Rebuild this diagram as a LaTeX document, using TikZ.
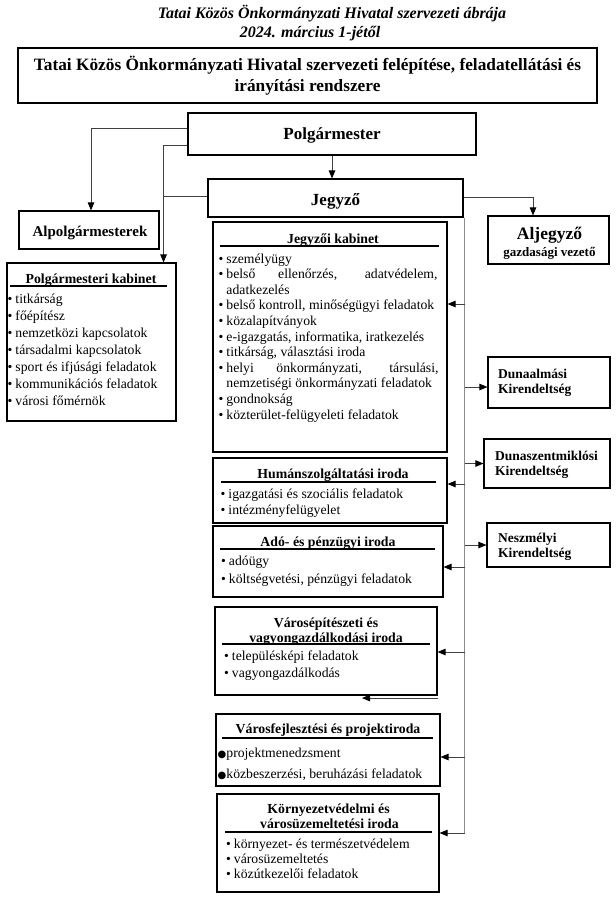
\documentclass[tikz,border=0pt]{standalone}
\usepackage{fontspec}
\setmainfont{Liberation Serif}
\newfontfamily\dejavu{DejaVu Sans}
\usetikzlibrary{arrows.meta,calc}
\newcommand\bul{\textbullet\hspace{3pt}}
\newcommand\nobul{\hphantom{\textbullet}\hspace{3pt}}
\newcommand\bigbul{{\dejavu\fontsize{10}{10}\selectfont ●}}
\begin{document}
\begin{tikzpicture}[x=1pt,y=-1pt,
  box/.style={draw=black, line width=1.1pt, inner sep=0pt},
  conn/.style={draw=black!75, line width=0.9pt},
  arr/.style={conn, -{Triangle[length=8pt,width=6.5pt,color=black]}},
  trunkline/.style={draw=black!45, line width=1.6pt},
  hrul/.style={line width=2pt},
  hdr/.style={inner sep=0pt, font=\bfseries\itshape\fontsize{16}{18}\selectfont, text height=13.2pt, text depth=2pt},
  big/.style={inner sep=0pt, font=\bfseries\fontsize{17}{20}\selectfont, text height=13.9pt, text depth=2.25pt},
  mid/.style={inner sep=0pt, font=\bfseries\fontsize{15}{17}\selectfont, text height=12.5pt, text depth=1.75pt},
  ttl/.style={inner sep=0pt, font=\bfseries\fontsize{13.8}{15.6}\selectfont, text height=11.7pt, text depth=1.45pt},
  li/.style={anchor=west, inner sep=0pt, font=\fontsize{13.7}{15.6}\selectfont, text height=11.6pt, text depth=1.4pt},
  kir/.style={anchor=west, inner sep=0pt, font=\bfseries\fontsize{13.5}{15}\selectfont, text height=11.45pt, text depth=1.4pt}
]
\useasboundingbox (0,0) rectangle (616,898);

% ---- header
\node[hdr] (h1) at (332,13) {Tatai Közös Önkormányzati Hivatal szervezeti ábrája};
\node[hdr] (h2) at (310,32) {2024. március 1-jétől};

% ---- main title box
\node[box, minimum width=579, minimum height=55] (main) at (307.5,75.5) {};
\node[big, font=\bfseries\fontsize{17.3}{20}\selectfont] (mainA) at (307.5,64.5) {Tatai Közös Önkormányzati Hivatal szervezeti felépítése, feladatellátási és};
\node[big, font=\bfseries\fontsize{17.3}{20}\selectfont] (mainB) at (307.5,86) {irányítási rendszere};

% ---- top level boxes
\node[box, minimum width=288, minimum height=42] (polg) at (332,134) {};
\node[big] (polgT) at (332,133.5) {Polgármester};
\node[box, minimum width=255, minimum height=38] (jeg) at (335.5,198) {};
\node[big] (jegT) at (335.5,200) {Jegyző};
\node[box, minimum width=140, minimum height=38] (alp) at (89,230) {};
\node[mid] (alpT) at (90,231) {Alpolgármesterek};
\node[box, minimum width=121, minimum height=48] (alj) at (548.5,240) {};
\node[big, font=\bfseries\fontsize{17.5}{20}\selectfont] (aljT1) at (549.5,234) {Aljegyző};
\node[ttl, font=\bfseries\fontsize{13}{15}\selectfont] (aljT2) at (549.5,251) {gazdasági vezető};

% ---- Polgármesteri kabinet
\node[box, minimum width=169, minimum height=158] (pk) at (91.5,342) {};
\node[ttl] (pkT) at (91,278) {Polgármesteri kabinet};
\draw[hrul] (10,286) -- (167,286);
\node[li] (pk1) at (7.5,298) {\bul titkárság};
\node[li] (pk2) at (7.5,315) {\bul főépítész};
\node[li] (pk3) at (7.5,332) {\bul nemzetközi kapcsolatok};
\node[li] (pk4) at (7.5,349) {\bul társadalmi kapcsolatok};
\node[li] (pk5) at (7.5,366) {\bul sport és ifjúsági feladatok};
\node[li] (pk6) at (7.5,383) {\bul kommunikációs feladatok};
\node[li] (pk7) at (7.5,400) {\bul városi főmérnök};

% ---- Jegyzői kabinet
\node[box, minimum width=234, minimum height=230] (jk) at (330,337) {};
\node[ttl] (jkT) at (333,238) {Jegyzői kabinet};
\draw[hrul] (220,246) -- (439,246);
\node[li] (jk1) at (218.5,258) {\bul személyügy};
\node[li] (jk2) at (218.5,273.6) {\bul\makebox[211pt][s]{belső ellenőrzés, adatvédelem,}};
\node[li] (jk3) at (218.5,289.2) {\nobul adatkezelés};
\node[li] (jk4) at (218.5,304.8) {\bul belső kontroll, minőségügyi feladatok};
\node[li] (jk5) at (218.5,320.4) {\bul közalapítványok};
\node[li] (jk6) at (218.5,336) {\bul e-igazgatás, informatika, iratkezelés};
\node[li] (jk7) at (218.5,351.6) {\bul titkárság, választási iroda};
\node[li] (jk8) at (218.5,367.2) {\bul\makebox[212pt][s]{helyi önkormányzati, társulási,}};
\node[li] (jk9) at (218.5,382.8) {\nobul nemzetiségi önkormányzati feladatok};
\node[li] (jk10) at (218.5,398.4) {\bul gondnokság};
\node[li] (jk11) at (218.5,414) {\bul közterület-felügyeleti feladatok};

% ---- Humánszolgáltatási iroda
\node[box, minimum width=234, minimum height=65] (hum) at (330,490.5) {};
\node[ttl] (humT) at (333,473) {Humánszolgáltatási iroda};
\draw[hrul] (221,482) -- (436,482);
\node[li] (hum1) at (220.5,493.5) {\bul igazgatási és szociális feladatok};
\node[li] (hum2) at (220.5,509.5) {\bul intézményfelügyelet};

% ---- Adó- és pénzügyi iroda
\node[box, minimum width=230, minimum height=71] (ado) at (328,561.5) {};
\node[ttl] (adoT) at (328,541) {Adó- és pénzügyi iroda};
\draw[hrul] (220,549) -- (435,549);
\node[li] (ado1) at (221,560.5) {\bul adóügy};
\node[li] (ado2) at (221,578) {\bul költségvetési, pénzügyi feladatok};

% ---- Városépítészeti és vagyongazdálkodási iroda
\node[box, minimum width=222, minimum height=88] (vep) at (326,651) {};
\node[ttl] (vepT1) at (326,622) {Városépítészeti és};
\node[ttl] (vepT2) at (326,637) {vagyongazdálkodási iroda};
\draw[hrul] (222,644) -- (430,644);
\node[li] (vep1) at (224,655) {\bul településképi feladatok};
\node[li] (vep2) at (224,672.5) {\bul vagyongazdálkodás};

% ---- Városfejlesztési és projektiroda
\node[box, minimum width=224, minimum height=72] (vfj) at (328,750) {};
\node[ttl] (vfjT) at (328,728) {Városfejlesztési és projektiroda};
\draw[hrul] (222,738) -- (433,738);
\node[li] (vfj1) at (217.5,752) {\bigbul projektmenedzsment};
\node[li] (vfj2) at (217.5,773) {\bigbul közbeszerzési, beruházási feladatok};

% ---- Környezetvédelmi és városüzemeltetési iroda
\node[box, minimum width=222, minimum height=98] (kv) at (328,843) {};
\node[ttl] (kvT1) at (328.5,808) {Környezetvédelmi és};
\node[ttl] (kvT2) at (329.5,823) {városüzemeltetési iroda};
\draw[hrul] (225,832) -- (432,832);
\node[li] (kv1) at (226,843.5) {\bul környezet- és természetvédelem};
\node[li] (kv2) at (226,858.5) {\bul városüzemeltetés};
\node[li] (kv3) at (226,873.5) {\bul közútkezelői feladatok};

% ---- Kirendeltségek
\node[box, minimum width=122, minimum height=51] (dun) at (549,382.5) {};
\node[kir] (dunT1) at (498,373) {Dunaalmási};
\node[kir] (dunT2) at (498,388) {Kirendeltség};
\node[box, minimum width=126, minimum height=49] (dsz) at (547,463.5) {};
\node[kir] (dszT1) at (495,455) {Dunaszentmiklósi};
\node[kir] (dszT2) at (495,470) {Kirendeltség};
\node[box, minimum width=123, minimum height=44] (nesz) at (548.5,545) {};
\node[kir] (neszT1) at (498,537) {Neszmélyi};
\node[kir] (neszT2) at (498,552) {Kirendeltség};

% ---- connectors from Polgármester / Jegyző
\draw[arr] ($(polg.west)+(0,-6)$) -| ($(alp.north)+(2,0)$);
\coordinate (pkx) at ($(pk.north east)+(-13,0)$);
\draw[arr] ($(polg.west)+(0,11)$) -| (pkx);
\coordinate (jegL) at ($(jeg.west)+(0,-2)$);
\draw[conn] (jegL) -- (jegL -| pkx);
\draw[arr] (polg.south) -- (polg.south |- jeg.north);
\coordinate (aljx) at ($(alj.north)+(-15.5,0)$);
\draw[arr] ($(jeg.east)+(0,-1)$) -| (aljx);

% ---- trunk on the right of the offices
\coordinate (trunk) at ($(jeg.south east)+(1,0)$);
\coordinate (jkin) at ($(jk.east)+(0,-33)$);
\coordinate (humin) at ($(hum.east)+(0,-6.5)$);
\coordinate (adoin) at ($(ado.east)+(0,5.5)$);
\coordinate (vepin) at ($(vep.east)+(0,1)$);
\coordinate (vfjin) at ($(vfj.east)+(0,7)$);
\coordinate (kvin) at ($(kv.east)+(0,-10)$);
\coordinate (dunin) at ($(dun.west)+(0,4.5)$);
\coordinate (dszin) at (dsz.west);
\coordinate (neszin) at (nesz.west);
\draw[trunkline] (trunk) -- (trunk |- kvin);
\foreach \t in {jkin,humin,adoin,vepin,vfjin,kvin,dunin,dszin,neszin}
  \draw[arr] (trunk |- \t) -- (\t);

% ---- short arrow under Városépítészeti box
\coordinate (stubA) at ($(vep.south east)+(0,2.5)$);
\coordinate (stubB) at ($(vep.south)+(36,2.5)$);
\draw[arr] (stubA) -- (stubB);
\end{tikzpicture}
\end{document}
